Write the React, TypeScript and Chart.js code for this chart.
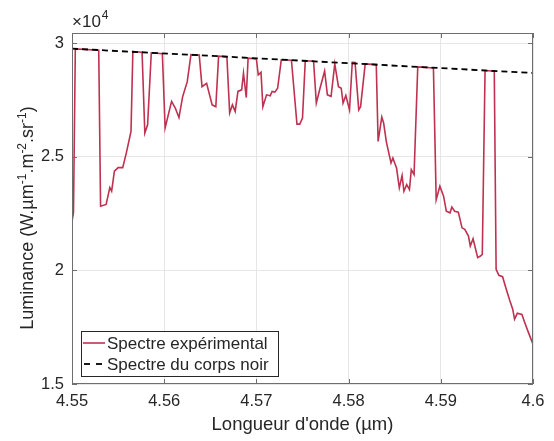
import React, { useEffect, useRef } from 'react';
import { Chart, registerables } from 'chart.js';

Chart.register(...registerables);

// Experimental spectrum (wavelength in µm, luminance in W.µm-1.m-2.sr-1)
const wavelengths = [
  4.5500, 4.55016, 4.55036, 4.5529, 4.5531, 4.5537, 4.5541, 4.5543, 4.5546, 4.5550,
  4.5555, 4.5559, 4.5564, 4.5566, 4.5576, 4.5579, 4.5582, 4.5586, 4.5598, 4.5601,
  4.5608, 4.5612, 4.5616, 4.5620, 4.5625, 4.5629, 4.5638, 4.5641, 4.5646, 4.5652,
  4.5656, 4.5659, 4.5668, 4.5671, 4.5674, 4.5677, 4.5680, 4.5684, 4.5686, 4.5689,
  4.5691, 4.5700, 4.5702, 4.5705, 4.5707, 4.5711, 4.5715, 4.5717, 4.5720, 4.5723,
  4.5727, 4.5738, 4.5744, 4.5747, 4.5750, 4.5753, 4.5762, 4.5765, 4.5769, 4.5774,
  4.5777, 4.5781, 4.5785, 4.5789, 4.5792, 4.5794, 4.5797, 4.5801, 4.5804, 4.5807,
  4.5811, 4.5813, 4.5818, 4.5830, 4.5832, 4.5836, 4.5838, 4.5841, 4.5846, 4.5848,
  4.5852, 4.5855, 4.5858, 4.5860, 4.5863, 4.5866, 4.5868, 4.5871, 4.5875, 4.5892,
  4.5895, 4.5899, 4.5903, 4.5906, 4.5910, 4.5912, 4.5915, 4.5919, 4.5923, 4.5926,
  4.5930, 4.5932, 4.5935, 4.5940, 4.5943, 4.5945, 4.5948, 4.5958, 4.5960, 4.5963,
  4.5967, 4.5971, 4.5975, 4.5978, 4.5980, 4.5983, 4.5988, 4.5991, 4.5995, 4.6000,
];
const luminance = [
  22150, 22540, 29740, 29680, 22820, 22900, 23640, 23480, 24360, 24520,
  24520, 25180, 26110, 29620, 29590, 26040, 26400, 29570, 29530, 26260,
  27430, 27140, 26720, 27640, 28300, 29490, 29470, 28080, 28230, 27280,
  27200, 29420, 29400, 26920, 27280, 26990, 27870, 27940, 28670, 27600,
  29330, 29300, 28600, 28710, 27200, 27720, 27680, 27870, 27840, 28010,
  29260, 29240, 26430, 26430, 26700, 29220, 29200, 27360, 28010, 28770,
  27720, 27650, 29080, 28080, 28010, 27360, 27690, 27060, 29150, 29140,
  27060, 27200, 29080, 29050, 25670, 26740, 26480, 25640, 24720, 24940,
  24500, 23630, 24170, 23480, 23770, 23550, 24430, 24210, 28950, 28900,
  23110, 23700, 23260, 22600, 22530, 22780, 22600, 22560, 21870, 21800,
  21510, 21070, 21390, 20560, 20630, 20700, 28790, 28760, 20040, 19780,
  19720, 19170, 18650, 18290, 17850, 18110, 18060, 17710, 17270, 16750,
];

// Blackbody spectrum
const bbWavelengths = [4.55, 4.5625, 4.575, 4.5875, 4.6];
const bbLuminance = [29750, 29490, 29220, 28950, 28680];

const seriesLabels = ['Spectre expérimental', 'Spectre du corps noir'];

const xTicks = [4.55, 4.56, 4.57, 4.58, 4.59, 4.6];
const xTickLabels = ['4.55', '4.56', '4.57', '4.58', '4.59', '4.6'];
const yTicks = [15000, 20000, 25000, 30000];
const yTickLabels = ['1.5', '2', '2.5', '3'];

const X_MIN = 4.55;
const X_MAX = 4.6;
const Y_MIN = 15000;
const Y_MAX = 30440;

const RED = '#bf3150';
const TEXT = '#262626';
const FONT = "'Liberation Sans', Arial, Helvetica, sans-serif";

const decorPlugin = {
  id: 'decor',
  afterDraw(chart: any) {
    const { ctx, chartArea } = chart;
    const { left, right, top, bottom } = chartArea;
    const xs = chart.scales.x;
    const ys = chart.scales.y;
    ctx.save();

    // axes box
    ctx.strokeStyle = '#6e6e6e';
    ctx.lineWidth = 1;
    ctx.strokeRect(Math.round(left) + 0.5, Math.round(top) + 0.5, Math.round(right - left) - 1, Math.round(bottom - top) - 1);

    // inward ticks
    ctx.beginPath();
    xTicks.forEach((v) => {
      const px = Math.round(xs.getPixelForValue(v)) + 0.5;
      ctx.moveTo(px, bottom);
      ctx.lineTo(px, bottom - 5);
      ctx.moveTo(px, top);
      ctx.lineTo(px, top + 5);
    });
    yTicks.forEach((v) => {
      const py = Math.round(ys.getPixelForValue(v)) + 0.5;
      ctx.moveTo(left, py);
      ctx.lineTo(left + 5, py);
      ctx.moveTo(right, py);
      ctx.lineTo(right - 5, py);
    });
    ctx.stroke();

    // exponent label ×10^4
    ctx.fillStyle = TEXT;
    ctx.textBaseline = 'alphabetic';
    ctx.textAlign = 'left';
    ctx.font = `17px ${FONT}`;
    const base = '\u00d710';
    ctx.fillText(base, 72, 27);
    const bw = ctx.measureText(base).width;
    ctx.font = `12px ${FONT}`;
    ctx.fillText('4', 72 + bw + 1, 19);

    // x title
    ctx.font = `18.5px ${FONT}`;
    ctx.textAlign = 'center';
    ctx.textBaseline = 'middle';
    ctx.fillText("Longueur d'onde (\u00b5m)", (left + right) / 2, 425);

    // y title with superscripts
    const parts: [string, boolean][] = [
      ['Luminance (W.\u00b5m', false],
      ['-1', true],
      ['.m', false],
      ['-2', true],
      ['.sr', false],
      ['-1', true],
      [')', false],
    ];
    const mainFont = `18px ${FONT}`;
    const supFont = `12px ${FONT}`;
    let total = 0;
    parts.forEach(([t, s]) => {
      ctx.font = s ? supFont : mainFont;
      total += ctx.measureText(t).width;
    });
    ctx.translate(33, 218);
    ctx.rotate(-Math.PI / 2);
    ctx.textAlign = 'left';
    ctx.textBaseline = 'alphabetic';
    let u = -total / 2;
    parts.forEach(([t, s]) => {
      ctx.font = s ? supFont : mainFont;
      ctx.fillText(t, u, s ? -7 : 0);
      u += ctx.measureText(t).width;
    });
    ctx.setTransform(1, 0, 0, 1, 0, 0);

    // legend
    const lx = 81, ly = 331, lw = 197, lh = 45;
    ctx.fillStyle = '#ffffff';
    ctx.fillRect(lx, ly, lw, lh);
    ctx.strokeStyle = '#262626';
    ctx.lineWidth = 1;
    ctx.strokeRect(lx + 0.5, ly + 0.5, lw, lh);

    const row1 = 343;
    const row2 = 364;
    ctx.lineWidth = 1.6;
    ctx.strokeStyle = RED;
    ctx.beginPath();
    ctx.moveTo(83, row1);
    ctx.lineTo(105, row1);
    ctx.stroke();

    ctx.strokeStyle = '#000000';
    ctx.lineWidth = 1.8;
    ctx.setLineDash([6, 6]);
    ctx.beginPath();
    ctx.moveTo(84, row2);
    ctx.lineTo(104, row2);
    ctx.stroke();
    ctx.setLineDash([]);

    ctx.fillStyle = TEXT;
    ctx.font = `17px ${FONT}`;
    ctx.textAlign = 'left';
    ctx.textBaseline = 'middle';
    ctx.fillText(seriesLabels[0], 107, row1 + 1);
    ctx.fillText(seriesLabels[1], 107, row2 + 1);

    ctx.restore();
  },
};

export default function App() {
  const canvasRef = useRef<HTMLCanvasElement | null>(null);

  useEffect(() => {
    if (!canvasRef.current) return;
    const expData = wavelengths.map((x, i) => ({ x, y: luminance[i] }));
    const bbData = bbWavelengths.map((x, i) => ({ x, y: bbLuminance[i] }));

    const chart = new Chart(canvasRef.current, {
      type: 'line',
      data: {
        datasets: [
          {
            label: seriesLabels[0],
            data: expData,
            borderColor: RED,
            borderWidth: 1.6,
            pointRadius: 0,
            tension: 0,
            fill: false,
            order: 1,
          },
          {
            label: seriesLabels[1],
            data: bbData,
            borderColor: '#000000',
            borderWidth: 1.8,
            borderDash: [6, 4],
            pointRadius: 0,
            tension: 0,
            fill: false,
            order: 0,
          },
        ],
      },
      options: {
        responsive: false,
        animation: false,
        maintainAspectRatio: false,
        layout: { padding: { top: 33, right: 21, left: 0, bottom: 0 } },
        plugins: {
          legend: { display: false },
          tooltip: { enabled: false },
          title: { display: false },
        },
        scales: {
          x: {
            type: 'linear',
            min: X_MIN,
            max: X_MAX,
            afterBuildTicks: (scale: any) => {
              scale.ticks = xTicks.map((v) => ({ value: v }));
            },
            afterFit: (scale: any) => {
              scale.height = 57;
            },
            ticks: {
              autoSkip: false,
              maxRotation: 0,
              padding: 8,
              color: TEXT,
              font: { family: FONT, size: 16.5 },
              callback: (_v: any, i: number) => xTickLabels[i],
            },
            grid: { color: '#e6e6e6', lineWidth: 1, drawTicks: false },
            border: { display: false },
          },
          y: {
            type: 'linear',
            min: Y_MIN,
            max: Y_MAX,
            afterBuildTicks: (scale: any) => {
              scale.ticks = yTicks.map((v) => ({ value: v }));
            },
            afterFit: (scale: any) => {
              scale.width = 72;
            },
            ticks: {
              autoSkip: false,
              padding: 8,
              color: TEXT,
              font: { family: FONT, size: 16.5 },
              callback: (_v: any, i: number) => yTickLabels[i],
            },
            grid: { color: '#e6e6e6', lineWidth: 1, drawTicks: false },
            border: { display: false },
          },
        },
      },
      plugins: [decorPlugin],
    } as any);

    return () => {
      chart.destroy();
    };
  }, []);

  return (
    <div style={{ position: 'absolute', left: 0, top: 0, width: 554, height: 441, background: '#ffffff' }}>
      <canvas ref={canvasRef} width={554} height={441} />
    </div>
  );
}
